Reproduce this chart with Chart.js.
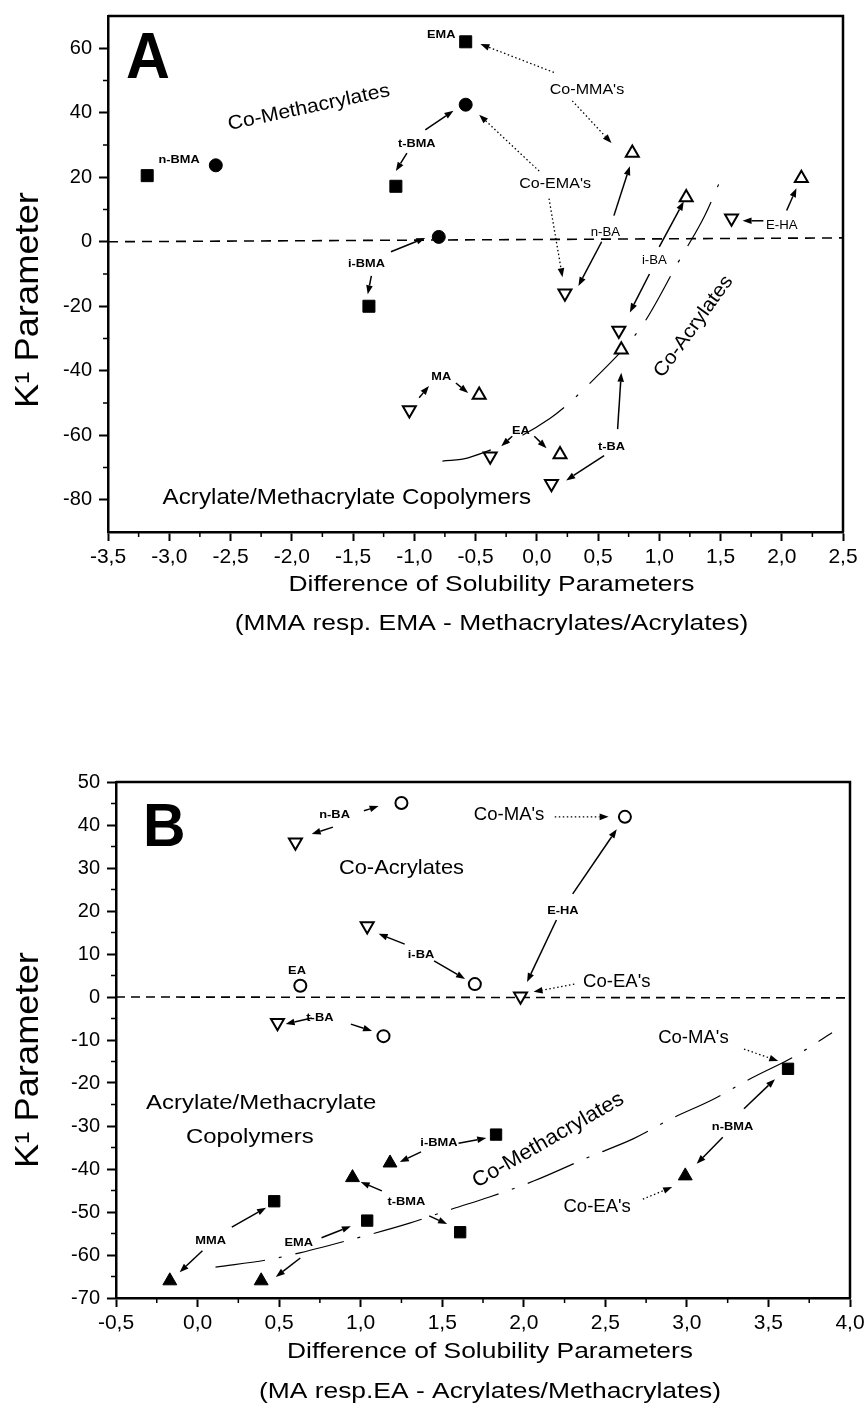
<!DOCTYPE html>
<html>
<head>
<meta charset="utf-8">
<title>K1 Parameter vs. Difference of Solubility Parameters</title>
<script src="https://cdn.jsdelivr.net/npm/chart.js@4.4.1/dist/chart.umd.min.js"></script>
<style>
  html, body { margin: 0; padding: 0; background: #fff; }
  #wrapA { position: absolute; left: 0; top: 0; width: 867px; height: 680px; }
  #wrapB { position: absolute; left: 0; top: 680px; width: 867px; height: 728px; }
</style>
</head>
<body>
<div id="wrapA"><canvas id="chartA" width="867" height="680"></canvas></div>
<div id="wrapB"><canvas id="chartB" width="867" height="728"></canvas></div>
<script>
const FONT = "'Liberation Sans', Arial, Helvetica, sans-serif";
Chart.defaults.font.family = FONT;
Chart.defaults.color = '#000';

// ---------- Panel A: MMA resp. EMA copolymers ----------
const aXTicks = [-3.5, -3, -2.5, -2, -1.5, -1, -0.5, 0, 0.5, 1, 1.5, 2, 2.5];
const aXMinor = [-3.25, -2.75, -2.25, -1.75, -1.25, -0.75, -0.25, 0.25, 0.75, 1.25, 1.75, 2.25];
const aYTicks = [-80, -60, -40, -20, 0, 20, 40, 60];
const aYMinor = [-70, -50, -30, -10, 10, 30, 50];

// filled squares / filled circles = methacrylates, open triangles = acrylates
const aSquares = [[-3.18, 20.5], [-1.15, 17.2], [-1.37, -20], [-0.58, 62]];
const aCircles = [[-2.62, 23.7], [-0.80, 1.5], [-0.58, 42.5]];
const aTriUp = [[0.78, 27.5], [1.22, 13.7], [2.16, 19.7], [0.69, -33.5], [-0.47, -47.5], [0.19, -66]];
const aTriDown = [[0.23, -16], [1.59, 7.3], [0.67, -27.5], [-1.04, -52.2], [-0.38, -66.5], [0.12, -75]];

const aZeroX = [-3.5, 2.5];
const aZeroY = [0, 1.2];
const aCurveX = [-0.77, -0.56, 0.11, 0.47, 0.86, 1.16, 1.37, 1.51];
const aCurveY = [-68, -67, -54.7, -42.5, -26, -6, 8, 20];

// arrows: x0, y0, x1 (head), y1, dotted
const aArrows = [
  [-1.06, 27.5, -1.15, 21.9, 0],
  [-0.91, 34.7, -0.68, 40.6, 0],
  [-1.19, -3.1, -0.91, 1.2, 0],
  [-1.35, -10.6, -1.38, -16.3, 0],
  [0.14, 52.5, -0.46, 61.3, 1],
  [0.29, 43.7, 0.61, 30.6, 1],
  [0.02, 21.9, -0.47, 39.4, 1],
  [0.10, 13.4, 0.21, -11, 1],
  [0.63, 8.1, 0.76, 23.4, 0],
  [0.53, 0, 0.34, -13.7, 0],
  [1.0, -1.6, 1.2, 12.5, 0],
  [0.92, -10, 0.76, -21.9, 0],
  [1.85, 6.5, 1.68, 6.5, 0],
  [2.04, 9.7, 2.12, 16.6, 0],
  [-0.96, -48.4, -0.88, -44.7, 0],
  [-0.66, -43.8, -0.56, -46.9, 0],
  [-0.20, -60.3, -0.29, -63.4, 0],
  [-0.02, -60.3, 0.08, -64, 0],
  [0.55, -66.3, 0.24, -74, 0],
  [0.66, -58.1, 0.69, -40.6, 0]
];

const aLabels = [
  ['n-BMA', -2.92, 25.3, 'tag'],
  ['t-BMA', -0.98, 30.3, 'tag'],
  ['i-BMA', -1.39, -6.9, 'tag'],
  ['EMA', -0.78, 64, 'tag'],
  ['MA', -0.78, -41.9, 'tag'],
  ['EA', -0.13, -58.8, 'tag'],
  ['t-BA', 0.61, -63.7, 'tag'],
  ['n-BA', 0.56, 2.8, 'tag2'],
  ['i-BA', 0.96, -6, 'tag2'],
  ['E-HA', 2.0, 5, 'tag2'],
  ["Co-MMA's", 0.41, 47.2, 'mid'],
  ["Co-EMA's", 0.15, 18.1, 'mid'],
  ['Co-Methacrylates', -1.86, 41.6, 'big', -12],
  ['Co-Acrylates', 1.28, -26.3, 'big', -54],
  ['Acrylate/Methacrylate Copolymers', -1.55, -79.4, 'big2'],
  ['A', -3.353, 50.9, 'letter']
];

// ---------- Panel B: MA resp. EA copolymers ----------
const bXTicks = [-0.5, 0, 0.5, 1, 1.5, 2, 2.5, 3, 3.5, 4];
const bXMinor = [-0.25, 0.25, 0.75, 1.25, 1.75, 2.25, 2.75, 3.25, 3.75];
const bYTicks = [-70, -60, -50, -40, -30, -20, -10, 0, 10, 20, 30, 40, 50];
const bYMinor = [-65, -55, -45, -35, -25, -15, -5, 5, 15, 25, 35, 45];

// open circles / open down triangles = acrylates, filled = methacrylates
const bCircles = [[1.25, 45.1], [0.63, 2.6], [2.62, 41.9], [1.70, 3.0], [1.14, -9.1]];
const bTriDown = [[0.60, 36], [1.04, 16.5], [1.98, 0.2], [0.49, -6]];
const bSquares = [[0.47, -47.5], [1.04, -52], [1.61, -54.7], [1.83, -32], [3.62, -16.7]];
const bTriUp = [[-0.17, -66], [0.39, -66], [0.95, -42], [1.18, -38.6], [2.99, -41.6]];

const bZeroX = [-0.5, 4.0];
const bZeroY = [0, -0.2];
const bCurveX = [0.11, 0.46, 1.02, 1.30, 1.56, 1.79, 2.06, 2.40, 2.67, 2.92, 3.15, 3.40, 3.66, 3.89];
const bCurveY = [-62.8, -60.9, -55.6, -52.6, -49.3, -46.5, -42.8, -37.2, -33, -28, -24, -18.8, -13.8, -8.3];

const bArrows = [
  [0.83, 39.5, 0.70, 37.9, 0],
  [1.02, 43.3, 1.11, 44.4, 0],
  [2.19, 41.9, 2.52, 41.9, 1],
  [2.30, 24, 2.57, 39, 0],
  [2.20, 17.9, 2.02, 3.5, 0],
  [1.27, 12.3, 1.11, 14.7, 0],
  [1.45, 8.4, 1.64, 4.2, 0],
  [2.31, 3, 2.06, 1.2, 1],
  [0.70, -4.9, 0.54, -6.3, 0],
  [0.94, -6.3, 1.07, -7.9, 0],
  [1.37, -36, 1.24, -38.4, 0],
  [1.60, -34, 1.77, -32.8, 0],
  [1.13, -45.1, 1.0, -43, 0],
  [1.42, -50.9, 1.53, -52.8, 0],
  [0.21, -53.5, 0.42, -49, 0],
  [0.03, -59, -0.11, -64, 0],
  [0.76, -56, 0.94, -53.3, 0],
  [0.63, -60.7, 0.48, -65.1, 0],
  [3.35, -12.1, 3.56, -14.9, 1],
  [3.35, -26, 3.54, -19.1, 0],
  [3.22, -32.6, 3.06, -38.8, 0],
  [2.73, -47, 2.91, -44.2, 1]
];

const bLabels = [
  ['n-BA', 0.84, 42.3, 'tag'],
  ['i-BA', 1.37, 9.8, 'tag'],
  ['EA', 0.61, 6, 'tag'],
  ['E-HA', 2.24, 20, 'tag'],
  ['t-BA', 0.75, -4.9, 'tag'],
  ['i-BMA', 1.48, -34, 'tag'],
  ['t-BMA', 1.28, -47.7, 'tag'],
  ['MMA', 0.08, -56.7, 'tag'],
  ['EMA', 0.62, -57.3, 'tag'],
  ['n-BMA', 3.28, -30.2, 'tag'],
  ["Co-MA's", 1.91, 42.3, 'mid'],
  ["Co-EA's", 2.57, 3.5, 'mid'],
  ["Co-MA's", 3.04, -9.5, 'mid'],
  ["Co-EA's", 2.45, -48.8, 'mid'],
  ['Co-Acrylates', 1.25, 30, 'big'],
  ['Co-Methacrylates', 2.15, -33.3, 'big', -30],
  ['Acrylate/Methacrylate', 0.39, -24.7, 'big2'],
  ['Copolymers', 0.32, -32.6, 'big2'],
  ['B', -0.334, 35.1, 'letter']
];

// text styles (scanned lettering is a bit wider than Arial, hence sx)
const stylesA = {
  tag: { size: 11, weight: 'bold', sx: 1.16 },
  tag2: { size: 12, weight: 'normal', sx: 1.1 },
  mid: { size: 15, weight: 'normal', sx: 1.07 },
  big: { size: 19.5, weight: 'normal', sx: 1.08 },
  big2: { size: 22, weight: 'normal', sx: 1.1 },
  letter: { size: 64, weight: 'bold', sx: 0.95, align: 'left', base: 'alphabetic' }
};
const stylesB = {
  tag: { size: 11, weight: 'bold', sx: 1.17 },
  mid: { size: 18, weight: 'normal', sx: 1.03 },
  big: { size: 21, weight: 'normal', sx: 1.04 },
  big2: { size: 21, weight: 'normal', sx: 1.14 },
  letter: { size: 62, weight: 'bold', sx: 0.95, align: 'left', base: 'alphabetic' }
};

function pts(arr) { return arr.map(p => ({ x: p[0], y: p[1] })); }
function xy(xs, ys) { return xs.map((x, i) => ({ x: x, y: ys[i] })); }

function markers(arr, style, filled, rot, r) {
  return {
    data: pts(arr),
    showLine: false,
    pointStyle: style,
    pointRotation: rot,
    pointRadius: r,
    pointHoverRadius: r,
    pointBackgroundColor: filled ? '#000' : '#fff',
    pointBorderColor: '#000',
    pointBorderWidth: filled ? 1 : 2
  };
}

function guide(xs, ys, dash, width, smooth) {
  return {
    data: xy(xs, ys),
    showLine: true,
    pointRadius: 0,
    borderColor: '#000',
    borderWidth: width,
    borderDash: dash,
    tension: smooth ? 0.4 : 0,
    cubicInterpolationMode: smooth ? 'monotone' : 'default',
    fill: false
  };
}

function drawText(ctx, s, px, py, st, rot) {
  ctx.save();
  ctx.translate(px, py);
  if (rot) ctx.rotate(rot * Math.PI / 180);
  ctx.scale(st.sx, 1);
  ctx.font = st.weight + ' ' + st.size + 'px ' + FONT;
  ctx.textAlign = st.align || 'center';
  ctx.textBaseline = st.base || 'middle';
  ctx.fillStyle = '#000';
  ctx.fillText(s, 0, 0);
  ctx.restore();
}

function drawArrow(ctx, x0, y0, x1, y1, dotted) {
  const ang = Math.atan2(y1 - y0, x1 - x0), L = 9, W = 3.3;
  const bx = x1 - L * Math.cos(ang), by = y1 - L * Math.sin(ang);
  ctx.setLineDash(dotted ? [1.5, 2.5] : []);
  ctx.lineWidth = dotted ? 1.3 : 1.5;
  ctx.beginPath();
  ctx.moveTo(x0, y0);
  ctx.lineTo(bx, by);
  ctx.stroke();
  ctx.setLineDash([]);
  ctx.beginPath();
  ctx.moveTo(x1, y1);
  ctx.lineTo(bx + W * Math.sin(ang), by - W * Math.cos(ang));
  ctx.lineTo(bx - W * Math.sin(ang), by + W * Math.cos(ang));
  ctx.closePath();
  ctx.fill();
}

// frame, minor ticks, arrows, labels and axis titles
function overlay(cfg) {
  return {
    id: 'overlay' + cfg.name,
    afterDraw(chart) {
      const ctx = chart.ctx, a = chart.chartArea;
      const xs = chart.scales.x, ys = chart.scales.y;
      ctx.save();
      ctx.strokeStyle = '#000';
      ctx.fillStyle = '#000';

      ctx.lineWidth = 2.5;
      ctx.beginPath();
      ctx.moveTo(a.left, a.top);
      ctx.lineTo(a.right, a.top);
      ctx.lineTo(a.right, a.bottom);
      ctx.stroke();

      ctx.lineWidth = 1.5;
      ctx.beginPath();
      cfg.xMinor.forEach(v => {
        const px = xs.getPixelForValue(v);
        ctx.moveTo(px, a.bottom);
        ctx.lineTo(px, a.bottom + 5);
      });
      cfg.yMinor.forEach(v => {
        const py = ys.getPixelForValue(v);
        ctx.moveTo(a.left, py);
        ctx.lineTo(a.left - 5, py);
      });
      ctx.stroke();

      cfg.arrows.forEach(r => drawArrow(ctx,
        xs.getPixelForValue(r[0]), ys.getPixelForValue(r[1]),
        xs.getPixelForValue(r[2]), ys.getPixelForValue(r[3]), r[4]));

      cfg.labels.forEach(l => drawText(ctx, l[0],
        xs.getPixelForValue(l[1]), ys.getPixelForValue(l[2]), cfg.styles[l[3]], l[4]));

      const tSt = { size: 22, weight: 'normal', sx: 1.2, base: 'alphabetic' };
      const cx = (a.left + a.right) / 2 + cfg.titleDx;
      drawText(ctx, 'Difference of Solubility Parameters', cx, a.bottom + cfg.t1, tSt);
      drawText(ctx, cfg.subtitle, cx, a.bottom + cfg.t2, tSt);
      drawText(ctx, 'K\u00b9 Parameter', 29, (a.top + a.bottom) / 2 + cfg.yTitleDy,
        { size: 33, weight: 'normal', sx: 1.1 }, -90);
      ctx.restore();
    }
  };
}

function axes(xMin, xMax, xTicks, yMin, yMax, yTicks, yWidth) {
  const grid = { drawOnChartArea: false, drawTicks: true, tickLength: 9, tickWidth: 2, tickColor: '#000' };
  const border = { display: true, color: '#000', width: 2.5 };
  return {
    x: {
      type: 'linear', min: xMin, max: xMax,
      afterBuildTicks: s => { s.ticks = xTicks.map(v => ({ value: v })); },
      afterFit: s => { s.height = 40; s.paddingLeft = 0; s.paddingRight = 0; },
      ticks: {
        callback: v => v.toFixed(1).replace('.', ','),
        font: { size: 21 }, color: '#000', padding: 4,
        autoSkip: false, maxRotation: 0, minRotation: 0
      },
      grid: grid, border: border
    },
    y: {
      type: 'linear', min: yMin, max: yMax,
      afterBuildTicks: s => { s.ticks = yTicks.map(v => ({ value: v })); },
      afterFit: s => { s.width = yWidth; s.paddingTop = 0; s.paddingBottom = 0; },
      ticks: { callback: v => String(v), font: { size: 20 }, color: '#000', padding: 7, autoSkip: false },
      grid: grid, border: border
    }
  };
}

const baseOpts = {
  responsive: false,
  animation: false,
  events: [],
  plugins: { legend: { display: false }, tooltip: { enabled: false } }
};

new Chart(document.getElementById('chartA'), {
  type: 'scatter',
  data: {
    datasets: [
      markers(aSquares, 'rect', true, 0, 8.5),
      markers(aCircles, 'circle', true, 0, 6.5),
      markers(aTriUp, 'triangle', false, 0, 7.5),
      markers(aTriDown, 'triangle', false, 180, 7.5),
      guide(aCurveX, aCurveY, [50, 16, 3, 16], 1.2, true),
      guide(aZeroX, aZeroY, [10, 7], 1.6, false)
    ]
  },
  options: Object.assign({}, baseOpts, {
    layout: { padding: { left: 0, top: 16, right: 24, bottom: 108 } },
    scales: axes(-3.5, 2.5, aXTicks, -90, 70, aYTicks, 108)
  }),
  plugins: [overlay({
    name: 'A', xMinor: aXMinor, yMinor: aYMinor, arrows: aArrows, labels: aLabels, styles: stylesA,
    subtitle: '(MMA resp. EMA - Methacrylates/Acrylates)', titleDx: 16, t1: 59, t2: 98, yTitleDy: 26
  })]
});

new Chart(document.getElementById('chartB'), {
  type: 'scatter',
  data: {
    datasets: [
      markers(bSquares, 'rect', true, 0, 8),
      markers(bTriUp, 'triangle', true, 0, 8),
      markers(bCircles, 'circle', false, 0, 6),
      markers(bTriDown, 'triangle', false, 180, 7.5),
      guide(bCurveX, bCurveY, [50, 14, 3, 14], 1.2, true),
      guide(bZeroX, bZeroY, [9, 6], 1.6, false)
    ]
  },
  options: Object.assign({}, baseOpts, {
    layout: { padding: { left: 0, top: 102, right: 17, bottom: 70 } },
    scales: axes(-0.5, 4.0, bXTicks, -70, 50, bYTicks, 116)
  }),
  plugins: [overlay({
    name: 'B', xMinor: bXMinor, yMinor: bYMinor, arrows: bArrows, labels: bLabels, styles: stylesB,
    subtitle: '(MA resp.EA - Acrylates/Methacrylates)', titleDx: 7, t1: 60, t2: 100, yTitleDy: 20
  })]
});
</script>
</body>
</html>
